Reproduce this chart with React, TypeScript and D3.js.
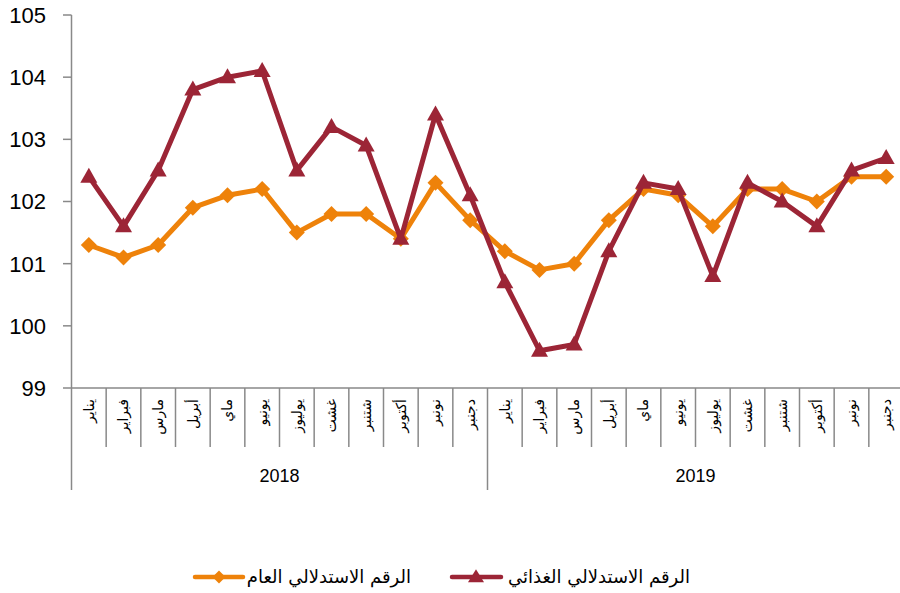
import React from "react";
import * as d3 from "d3";

const months = ["يناير", "فبراير", "مارس", "أبريل", "ماي", "يونيو", "يوليوز", "غشت", "شتنبر", "أكتوبر", "نونبر", "دجنبر"];
const years = ["2018", "2019"];
const generalIndex = [101.3, 101.1, 101.3, 101.9, 102.1, 102.2, 101.5, 101.8, 101.8, 101.4, 102.3, 101.7,
  101.2, 100.9, 101.0, 101.7, 102.2, 102.1, 101.6, 102.2, 102.2, 102.0, 102.4, 102.4];
const foodIndex = [102.4, 101.6, 102.5, 103.8, 104.0, 104.1, 102.5, 103.2, 102.9, 101.4, 103.4, 102.1,
  100.7, 99.6, 99.7, 101.2, 102.3, 102.2, 100.8, 102.3, 102.0, 101.6, 102.5, 102.7];
const yTicks = [99, 100, 101, 102, 103, 104, 105];
const seriesNames = ["الرقم الاستدلالي العام", "الرقم الاستدلالي الغذائي"];

const ORANGE = "#EE820A";
const RED = "#9C2536";
const AXIS = "#898989";

const W = 900, H = 593;
const left = 71.5, right = 903.5, top = 15, bottom = 388;

const diamond = (cx: number, cy: number, r: number) =>
  `M${cx},${cy - r}L${cx + r},${cy}L${cx},${cy + r}L${cx - r},${cy}Z`;
const triangle = (cx: number, cy: number, w: number, h: number) =>
  `M${cx},${cy - h * 0.6}L${cx + w / 2},${cy + h * 0.4}L${cx - w / 2},${cy + h * 0.4}Z`;

export default function App() {
  const cats = years.flatMap((yr) => months.map((m) => `${yr}-${m}`));
  const x = d3.scaleBand<number>().domain(d3.range(cats.length)).range([left, right]).padding(0);
  const bw = x.bandwidth();
  const cx = (i: number) => (x(i) as number) + bw / 2;
  const y = d3.scaleLinear().domain([99, 105]).range([bottom, top]);
  const line = d3.line<number>().x((_, i) => cx(i)).y((d) => y(d));

  return (
    <svg width={W} height={H} style={{ position: "absolute", left: 0, top: 0, background: "#fff" }}>
      {/* y axis */}
      <line x1={left} x2={left} y1={top} y2={bottom} stroke={AXIS} strokeWidth={1.5} />
      {yTicks.map((t) => (
        <g key={t}>
          <line x1={63} x2={left} y1={y(t)} y2={y(t)} stroke={AXIS} strokeWidth={1.5} />
          <text x={46} y={y(t)} dy="0.36em" textAnchor="end" fontFamily="Liberation Sans, Arial, sans-serif" fontSize={22} fill="#000">
            {t}
          </text>
        </g>
      ))}
      {/* x axis */}
      <line x1={left} x2={W} y1={bottom} y2={bottom} stroke={AXIS} strokeWidth={1.5} />
      {d3.range(cats.length + 1).map((i) => {
        const xx = left + i * bw;
        const long = i % 12 === 0;
        return <line key={i} x1={xx} x2={xx} y1={bottom} y2={long ? 490 : 447} stroke={AXIS} strokeWidth={1.5} />;
      })}
      {cats.map((c, i) => (
        <text key={c} transform={`translate(${cx(i)},${399}) rotate(-90)`} textAnchor="end" dy="0.35em"
          fontFamily="DejaVu Sans, sans-serif" fontSize={14} fill="#000">
          {months[i % 12]}
        </text>
      ))}
      {years.map((yr, k) => (
        <text key={yr} x={left + (k * 12 + 6) * bw} y={476} dy="0.35em" textAnchor="middle"
          fontFamily="Liberation Sans, Arial, sans-serif" fontSize={18} fill="#000">
          {yr}
        </text>
      ))}
      {/* general series */}
      <path d={line(generalIndex) || ""} fill="none" stroke={ORANGE} strokeWidth={5} strokeLinejoin="round" />
      {generalIndex.map((v, i) => (
        <path key={i} d={diamond(cx(i), y(v), 8)} fill={ORANGE} />
      ))}
      {/* food series */}
      <path d={line(foodIndex) || ""} fill="none" stroke={RED} strokeWidth={5} strokeLinejoin="round" />
      {foodIndex.map((v, i) => (
        <path key={i} d={triangle(cx(i), y(v), 17, 15)} fill={RED} />
      ))}
      {/* legend */}
      <g>
        <line x1={195} x2={243} y1={577} y2={577} stroke={ORANGE} strokeWidth={4.5} strokeLinecap="round" />
        <path d={diamond(219, 577, 6.5)} fill={ORANGE} />
        <text x={411} y={577} dy="0.35em" textAnchor="end" fontFamily="DejaVu Sans, sans-serif" fontSize={18} fill="#000">
          {seriesNames[0]}
        </text>
        <line x1={452} x2={501} y1={577} y2={577} stroke={RED} strokeWidth={4.5} strokeLinecap="round" />
        <path d={triangle(476, 577, 16, 13)} fill={RED} />
        <text x={690} y={577} dy="0.35em" textAnchor="end" fontFamily="DejaVu Sans, sans-serif" fontSize={18} fill="#000">
          {seriesNames[1]}
        </text>
      </g>
    </svg>
  );
}
